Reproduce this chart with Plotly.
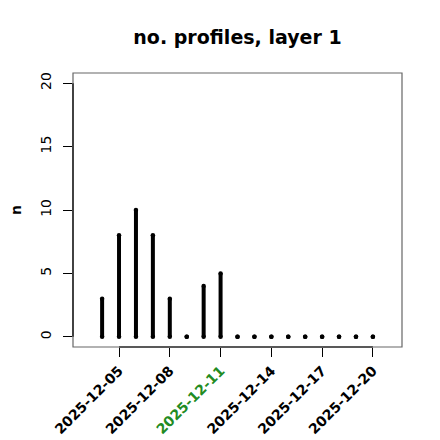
import plotly.graph_objects as go
import pandas as pd

dates = ["2025-12-04", "2025-12-05", "2025-12-06", "2025-12-07", "2025-12-08",
         "2025-12-09", "2025-12-10", "2025-12-11", "2025-12-12", "2025-12-13",
         "2025-12-14", "2025-12-15", "2025-12-16", "2025-12-17", "2025-12-18",
         "2025-12-19", "2025-12-20"]
n_profiles = [3, 8, 10, 8, 3, 0, 4, 5, 0, 0, 0, 0, 0, 0, 0, 0, 0]

x_ticks = ["2025-12-05", "2025-12-08", "2025-12-11", "2025-12-14", "2025-12-17", "2025-12-20"]
x_tick_colors = ["black", "black", "#228B22", "black", "black", "black"]
y_ticks = [0, 5, 10, 15, 20]

xlim = (pd.Timestamp("2025-12-03"), pd.Timestamp("2025-12-21"))
ext = (xlim[1] - xlim[0]) * 0.04
xrange = [xlim[0] - ext, xlim[1] + ext]
ylim = (0, 20)
yext = (ylim[1] - ylim[0]) * 0.04
yrange = [ylim[0] - yext, ylim[1] + yext]

sx, sy = [], []
for d, v in zip(dates, n_profiles):
    sx += [d, d, None]
    sy += [0, v, None]

mx, my = [], []
for d, v in zip(dates, n_profiles):
    mx += [d, d]
    my += [0, v]

W = H = 432  # page body has an 8px margin
fig = go.Figure()
fig.add_trace(go.Scatter(x=sx, y=sy, mode="lines",
                         line=dict(color="black", width=4),
                         hoverinfo="skip", showlegend=False))
fig.add_trace(go.Scatter(x=mx, y=my, mode="markers",
                         marker=dict(color="black", size=4.5, line=dict(width=0)),
                         hoverinfo="skip", showlegend=False))

ticktext = [f"<span style='color:{c}'><b>{t}</b></span>" for t, c in zip(x_ticks, x_tick_colors)]

fig.update_layout(
    width=W, height=H,
    margin=dict(l=65, r=38, t=65, b=93),
    paper_bgcolor="white", plot_bgcolor="white",
    font=dict(family="DejaVu Sans", size=14, color="black"),
    title=dict(text="<b>no. profiles, layer 1</b>", x=229.5 / W,
               xanchor="center", y=1 - 29 / H, yanchor="middle",
               font=dict(size=19, family="DejaVu Sans")),
    xaxis=dict(type="date", range=xrange, tickvals=x_ticks, ticktext=ticktext,
               tickangle=-45, ticks="outside", ticklen=9, tickcolor="black", tickwidth=1,
               showgrid=False, zeroline=False, showline=False, automargin=False,
               tickfont=dict(size=14, family="DejaVu Sans")),
    yaxis=dict(range=yrange, tickvals=y_ticks, ticktext=[str(v) for v in y_ticks],
               tickangle=-90, ticks="outside", ticklen=9, tickcolor="black", tickwidth=1,
               showgrid=False, zeroline=False, showline=False, automargin=False,
               ticklabelstandoff=6,
               title=dict(text="<b>n</b>", standoff=18, font=dict(size=14)),
               tickfont=dict(size=14, family="DejaVu Sans")),
    shapes=[
        dict(type="rect", xref="paper", yref="paper", x0=0, x1=1, y0=0, y1=1,
             line=dict(color="#666666", width=1.2), fillcolor="rgba(0,0,0,0)", layer="above"),
        dict(type="line", xref="paper", yref="y", x0=0, x1=0, y0=y_ticks[0], y1=y_ticks[-1],
             line=dict(color="black", width=1.2), layer="above"),
        dict(type="line", xref="x", yref="paper", x0=x_ticks[0], x1=x_ticks[-1], y0=0, y1=0,
             line=dict(color="black", width=1.2), layer="above"),
    ],
)

fig.write_html("out.html")
